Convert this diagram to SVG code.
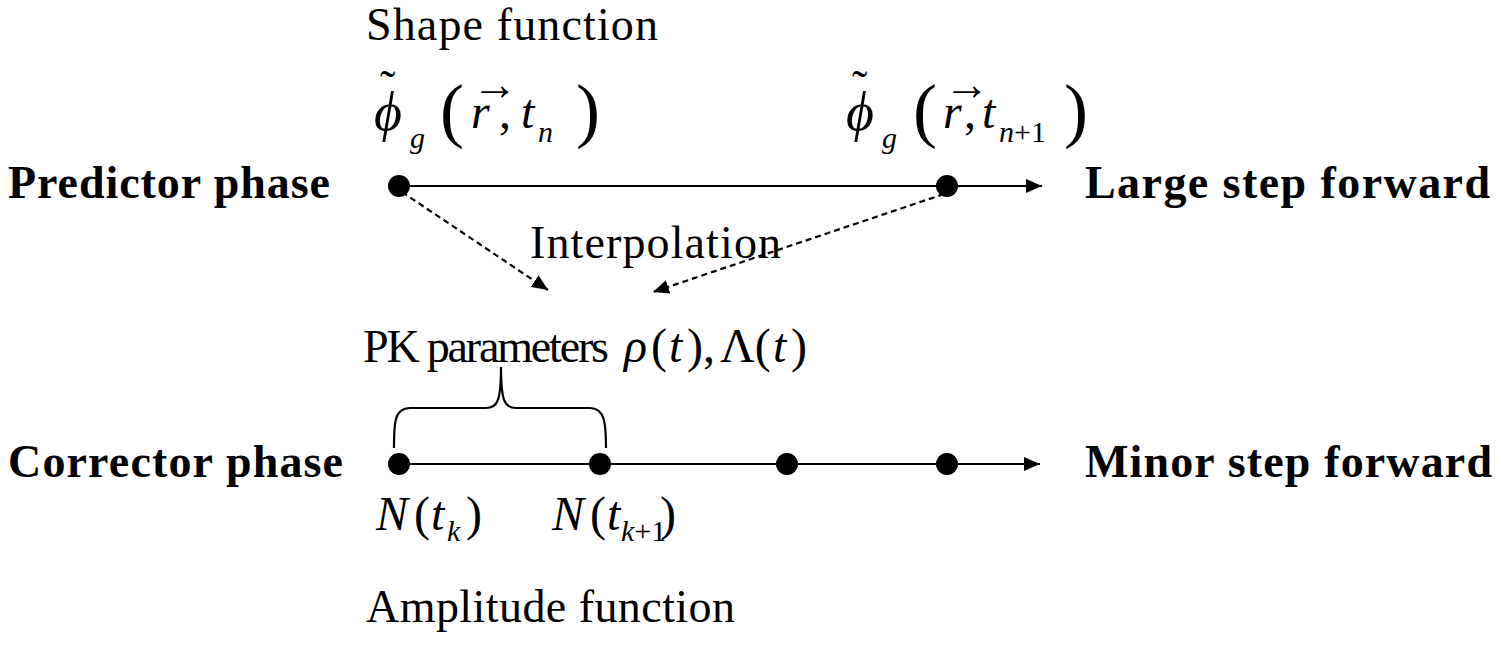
<svg xmlns="http://www.w3.org/2000/svg" width="1502" height="646" viewBox="0 0 1502 646">
<style>
.t{font-family:"Liberation Serif","Times New Roman",serif;font-size:46px;fill:#000}
.b{font-family:"Liberation Serif","Times New Roman",serif;font-size:46px;font-weight:bold;fill:#000}
.m{font-family:"Liberation Serif","Times New Roman",serif;font-size:48px;font-style:italic;fill:#000}
.phi{font-family:"Liberation Serif","Times New Roman",serif;font-size:54px;font-style:italic;fill:#000}
.s{font-family:"Liberation Serif","Times New Roman",serif;font-size:30px;font-style:italic;fill:#000}
.su{font-family:"Liberation Serif","Times New Roman",serif;font-size:30px;font-style:normal;fill:#000}
.p{font-family:"Liberation Serif","Times New Roman",serif;font-size:72px;font-style:normal;fill:#000}
.u{font-family:"Liberation Serif","Times New Roman",serif;font-size:48px;font-style:normal;fill:#000}
.dot{fill:#000}
.ln{stroke:#000;stroke-width:2.2;fill:none}
.dash{stroke:#000;stroke-width:2.2;fill:none;stroke-dasharray:6 4}
</style>
<defs>
<marker id="ah" markerWidth="16" markerHeight="14" refX="16" refY="7" orient="auto" markerUnits="userSpaceOnUse">
<path d="M0,0 L16,7 L0,14 Z" fill="#000"/>
</marker>
</defs>
<rect width="1502" height="646" fill="#fff"/>

<g id="labels">
<text class="t" x="366" y="40" textLength="292">Shape function</text>
<text class="b" x="8" y="198" textLength="322">Predictor phase</text>
<text class="b" x="1085" y="198" textLength="405">Large step forward</text>
<text class="t" x="530" y="258" textLength="251">Interpolation</text>
<text class="b" x="8" y="477" textLength="335">Corrector phase</text>
<text class="b" x="1085" y="477" textLength="407">Minor step forward</text>
<text class="t" x="366" y="622" textLength="369">Amplitude function</text>
</g>

<g id="connectors">
<line class="ln" x1="399" y1="186" x2="1042" y2="186" marker-end="url(#ah)"/>
<line class="ln" x1="399" y1="464" x2="1040" y2="464" marker-end="url(#ah)"/>
<line class="dash" x1="402" y1="192" x2="548" y2="290" marker-end="url(#ah)"/>
<line class="dash" x1="944" y1="194" x2="653" y2="292" marker-end="url(#ah)"/>
</g>

<g id="shape-n">
<text class="t" x="380" y="102" font-size="36">˜</text>
<text class="phi" x="374" y="130">ϕ</text>
<text class="s" x="410" y="148">g</text>
<text class="p" x="440" y="134">(</text>
<text class="t" x="472" y="100" font-size="22">→</text>
<text class="m" x="471" y="128">r</text>
<text class="u" x="499" y="128">,</text>
<text class="m" x="521" y="128">t</text>
<text class="s" x="538" y="142">n</text>
<text class="p" x="576" y="134">)</text>
<circle class="dot" cx="399" cy="186" r="11"/>
</g>

<g id="shape-n1">
<text class="t" x="852" y="102" font-size="36">˜</text>
<text class="phi" x="846" y="130">ϕ</text>
<text class="s" x="882" y="148">g</text>
<text class="p" x="913" y="134">(</text>
<text class="t" x="944" y="100" font-size="22">→</text>
<text class="m" x="943" y="128">r</text>
<text class="u" x="964" y="128">,</text>
<text class="m" x="982" y="128">t</text>
<text class="s" x="999" y="142">n<tspan class="su">+1</tspan></text>
<text class="p" x="1064" y="134">)</text>
<circle class="dot" cx="947" cy="186" r="11"/>
</g>

<g id="pk">
<text class="t" x="363" y="362" font-size="44" textLength="246">PK parameters</text>
<text class="m" x="624" y="362">ρ</text>
<text class="u" x="651" y="362">(</text>
<text class="m" x="669" y="362">t</text>
<text class="u" x="687" y="362">),</text>
<text class="u" x="720" y="362">Λ(</text>
<text class="m" x="773" y="362">t</text>
<text class="u" x="791" y="362">)</text>
<path class="ln" d="M394,448 C394,424 394,408 410,408 L486,408 C497,408 501,402 501,367 C501,402 505,408 516,408 L590,408 C605,408 606,424 606,448"/>
</g>

<g id="nk">
<circle class="dot" cx="399" cy="464" r="11"/>
<text class="m" x="376" y="530">N</text>
<text class="u" x="414" y="530">(</text>
<text class="m" x="431" y="530">t</text>
<text class="s" x="447" y="541">k</text>
<text class="u" x="466" y="530">)</text>
</g>

<g id="nk1">
<circle class="dot" cx="600" cy="464" r="11"/>
<text class="m" x="552" y="530">N</text>
<text class="u" x="590" y="530">(</text>
<text class="m" x="607" y="530">t</text>
<text class="s" x="621" y="541">k<tspan class="su">+1</tspan></text>
<text class="u" x="660" y="530">)</text>
</g>

<g id="n3"><circle class="dot" cx="787" cy="464" r="11"/></g>
<g id="n4"><circle class="dot" cx="947" cy="464" r="11"/></g>
</svg>
